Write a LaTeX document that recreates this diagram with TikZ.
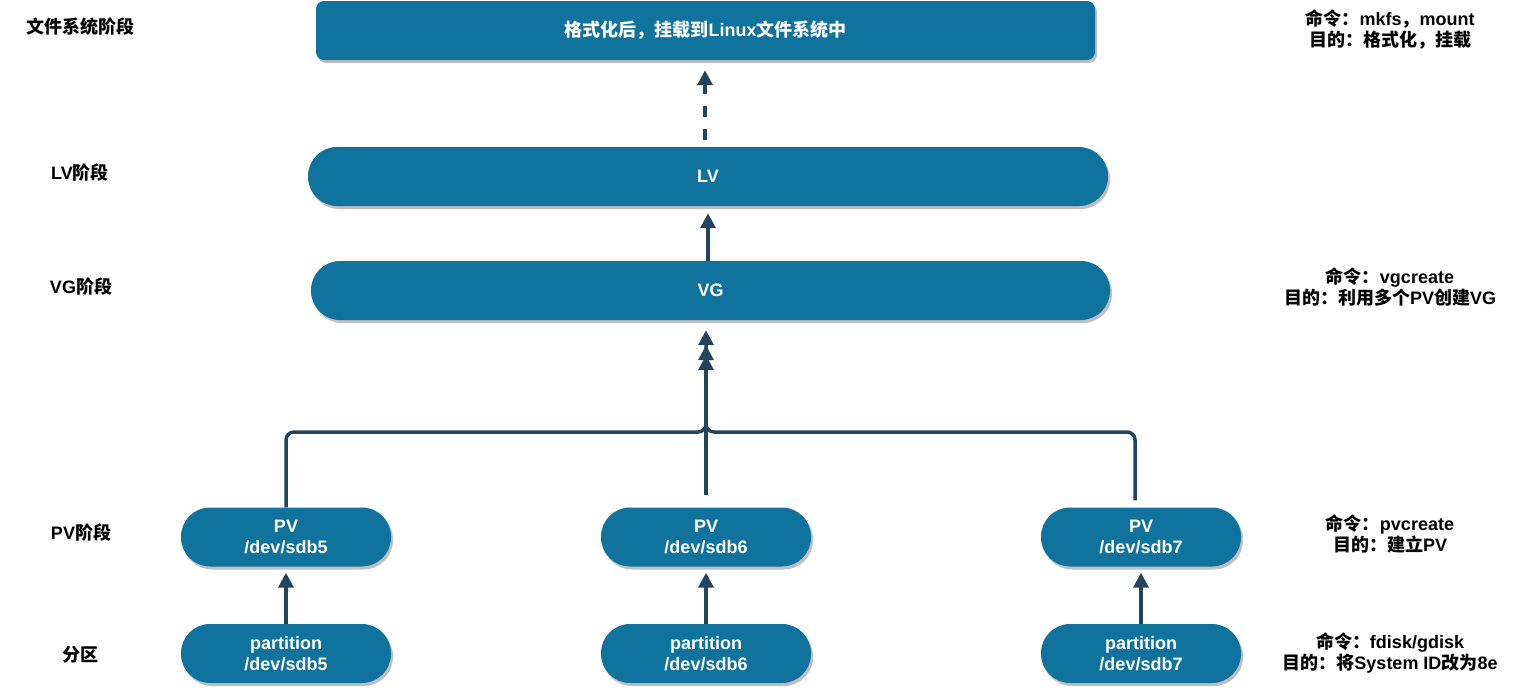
\documentclass[tikz,border=0pt]{standalone}
\usepackage{fontspec}
\setmainfont{Liberation Sans}
\newfontfamily\cjk{Noto Sans CJK SC}
\newcommand{\zh}[1]{{\cjk #1}}
\usetikzlibrary{arrows.meta,shadows}
\definecolor{boxblue}{HTML}{10739E}
\definecolor{linkblue}{HTML}{23445D}

\begin{document}
\begin{tikzpicture}[x=1pt,y=-1pt,
  every node/.style = {font=\fontsize{18}{21}\selectfont\bfseries, align=center},
  stage/.style = {fill=boxblue, text=white, inner sep=0pt, minimum height=59pt,
    drop shadow={shadow xshift=2pt, shadow yshift=-3pt, fill=black!25, opacity=1}},
  pill/.style = {stage, rounded corners=29pt},
  link/.style = {draw=linkblue, line width=3.5pt, -{Triangle[width=15pt,length=15pt]}}]
  \useasboundingbox (0,0) rectangle (1516,688);

  % stage boxes
  \node[stage, rounded corners=8pt, minimum width=779pt] (fs) at (705.5,30.5)
    {\zh{格式化后，挂载到}Linux\zh{文件系统中}};
  \node[pill, minimum width=800pt] (lv) at (708,176.5) {LV};
  \node[pill, minimum width=799pt] (vg) at (710.5,290.5) {VG};
  \foreach \n/\x/\w in {5/286/210, 6/706/210, 7/1141/200} {
    \node[pill, minimum width=\w pt] (pv\n) at (\x,537) {PV\\/dev/sdb\n};
    \node[pill, minimum width=\w pt] (part\n) at (\x,653.5) {partition\\/dev/sdb\n};
    \draw[link, shorten >=6pt] (part\n.north) -- (part\n.north |- pv\n.south);
  }

  % connectors
  \coordinate (bus) at (706,432);
  \draw[link, dash pattern=on 11pt off 12pt, shorten <=7pt, shorten >=10pt]
    (lv.north -| 705,0) -- (fs.south -| 705,0);
  \draw[link, shorten >=7pt] (vg.north -| 708,0) -- (lv.south -| 708,0);
  \draw[link, rounded corners=8pt, shorten >=10pt] (pv5.north) |- (bus) -- (bus |- vg.south);
  \draw[link, shorten <=12pt, shorten >=25pt] (pv6.north) -- (pv6.north |- vg.south);
  \draw[link, rounded corners=8pt, shorten <=7pt, shorten >=35pt]
    ([xshift=-6pt]pv7.north) |- (bus) -- (bus |- vg.south);

  % stage names
  \node (lblfs) at (80,27) {\zh{文件系统阶段}};
  \node (lbllv) at (80,173) {LV\zh{阶段}};
  \node (lblvg) at (81,287) {VG\zh{阶段}};
  \node (lblpv) at (81,533) {PV\zh{阶段}};
  \node (lblpart) at (80,655) {\zh{分区}};

  % commands
  \node (cmdfs) at (1390,30) {\zh{命令：}mkfs\zh{，}mount\\\zh{目的：格式化，挂载}};
  \node (cmdvg) at (1390,287.5) {\zh{命令：}vgcreate\\\zh{目的：利用多个}PV\zh{创建}VG};
  \node (cmdpv) at (1390,533.5) {\zh{命令：}pvcreate\\\zh{目的：建立}PV};
  \node (cmdpart) at (1390,652.5) {\zh{命令：}fdisk/gdisk\\\zh{目的：将}System ID\zh{改为}8e};
\end{tikzpicture}
\end{document}
